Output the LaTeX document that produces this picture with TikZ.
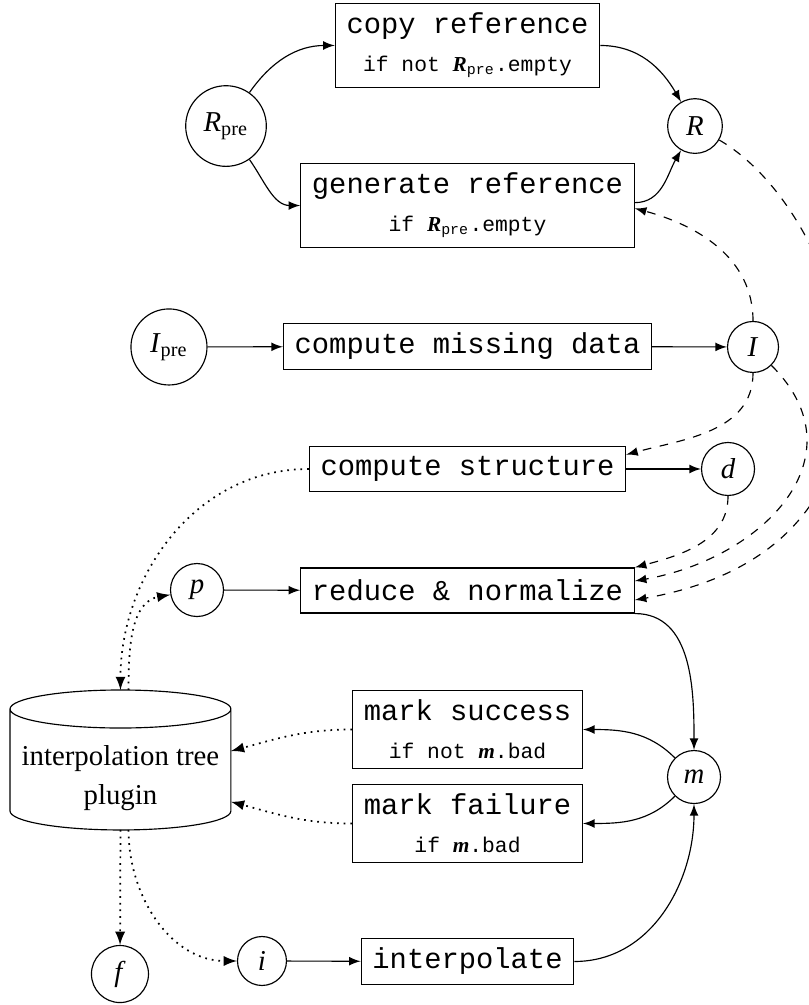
\documentclass[tikz,border=0pt]{standalone}
\usepackage{fontspec}
\setmainfont{Liberation Serif}
\setmonofont{Liberation Mono}
\newcommand{\guardsize}{\fontsize{7.4pt}{9pt}\selectfont}
\newcommand{\bvar}[1]{{\rmfamily\bfseries\itshape #1}}
\tikzset{
  op/.style={draw, rectangle, font=\ttfamily, inner xsep=3.9pt, minimum height=15.6pt},
  guard/.style={draw, rectangle, font=\ttfamily, align=center, inner xsep=3.9pt, inner ysep=3.3pt},
  var/.style={draw, circle, inner sep=1pt, minimum size=18.4pt},
  store/.style={rectangle, inner sep=0pt, outer sep=0pt, minimum width=76.7pt, minimum height=48.6pt},
  plugflow/.style={line width=0.6pt, dash pattern=on 0.6pt off 1.7pt},
  >=latex
}
\begin{document}
\begin{tikzpicture}
\useasboundingbox (0,0) rectangle (9.86,-12.264);
\node[var, minimum size=28pt] (Rpre) at (2.758,-1.538) {\textit{R}\textsubscript{pre}};
\node[var, minimum size=19pt] (R) at (8.481,-1.538) {\textit{R}};
\node[guard] (copy) at (5.705,-0.555) {copy reference\\[1.2pt]{\guardsize if not \bvar{R}\textsubscript{pre}.empty}};
\node[guard] (gen) at (5.705,-2.508) {generate reference\\[1.2pt]{\guardsize if \bvar{R}\textsubscript{pre}.empty}};
\node[var, minimum size=26.4pt] (Ipre) at (2.062,-4.234) {\textit{I}\textsubscript{pre}};
\node[op] (missing) at (5.705,-4.228) {compute missing data};
\node[var, minimum size=17.7pt] (I) at (9.189,-4.234) {\textit{I}};
\node[op] (struct) at (5.705,-5.723) {compute structure};
\node[var] (d) at (8.884,-5.723) {\textit{d}};
\node[var] (p) at (2.404,-7.200) {\textit{p}};
\node[op] (reduce) at (5.705,-7.206) {reduce \& normalize};
\node[store, label={[name=plugintext, align=center, yshift=-6.4pt]center:interpolation tree\\[1.5pt]plugin}] (plugin) at (1.470,-9.274) {};
\draw ([yshift=-6.6pt]plugin.north west) -- ([yshift=6.6pt]plugin.south west)
  arc[start angle=180, end angle=360, x radius=38.35pt, y radius=6.6pt]
  -- ([yshift=-6.6pt]plugin.north east)
  arc[start angle=0, end angle=360, x radius=38.35pt, y radius=6.6pt];
\node[guard] (succ) at (5.705,-8.902) {mark success\\[1.2pt]{\guardsize if not \bvar{m}.bad}};
\node[guard] (fail) at (5.705,-10.049) {mark failure\\[1.2pt]{\guardsize if \bvar{m}.bad}};
\node[var] (m) at (8.469,-9.482) {\textit{m}};
\node[var, minimum size=19.8pt] (f) at (1.464,-11.886) {\textit{f}};
\node[var, minimum size=17pt] (i) at (3.197,-11.727) {\textit{i}};
\node[op] (interp) at (5.705,-11.733) {interpolate};

\draw[->] (Rpre) to[out=55,in=180] (copy);
\draw[->] (Rpre) to[out=-55,in=180] (gen);
\draw[->] (copy) to[out=0,in=120] (R);
\draw[->] ([yshift=1pt]gen.east) to[out=0,in=-120] (R);
\draw[->] (Ipre) -- (missing);
\draw[->] (missing) -- (I);
\draw[->] (struct) -- (d);
\draw[->] (p) -- (reduce);
\draw[->] (i) -- (interp);
\draw[->] (reduce.south east) to[out=0,in=90] (m);
\draw[->] (m) to[out=135,in=0] (succ);
\draw[->] (m) to[out=-135,in=0] (fail);
\draw[->] (interp) to[out=0,in=-90] (m);

\draw[dashed,->] (I) to[out=90,in=-15] ([yshift=-1pt]gen.east);
\draw[dashed,->] (I) to[out=-90,in=15] ([yshift=5pt]struct.east);
\draw[dashed,->] (d) to[out=-90,in=15] (reduce.north east);
\draw[dashed,->] (I) to[out=-45,in=10,looseness=1.3] ([yshift=3.3pt]reduce.east);
\draw[dashed,->] (R) to[out=-30,in=10,out distance=1.83cm,in distance=3.9cm] ([yshift=-3.3pt]reduce.east);

\draw[plugflow,->] (struct) to[out=180,in=90] (plugin.north);
\draw[plugflow,->] ([xshift=2.8pt]plugin.north) to[out=90,in=-170] (p);
\draw[plugflow,->] (succ) to[out=180,in=15] ([yshift=3.1pt]plugin.east);
\draw[plugflow,->] (fail) to[out=180,in=-15] ([yshift=-14.5pt]plugin.east);
\draw[plugflow,->] (plugin.south) -- (f);
\draw[plugflow,->] ([xshift=2.8pt]plugin.south) to[out=-90,in=180] (i);
\end{tikzpicture}
\end{document}
